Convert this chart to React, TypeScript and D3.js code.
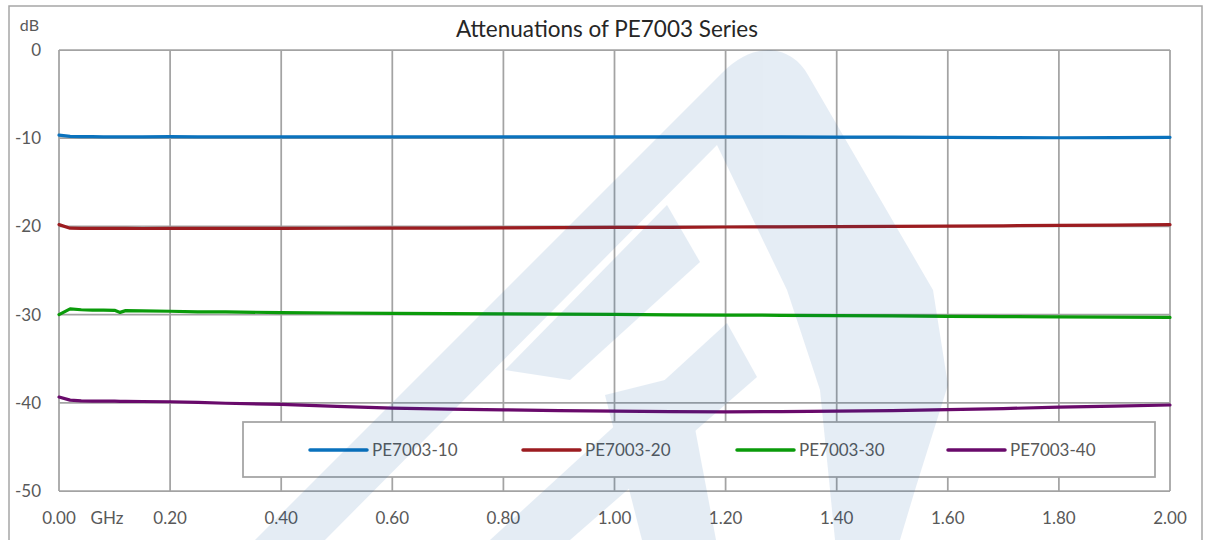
import React from 'react';
import * as d3 from 'd3';

// frequency points, GHz
const freqs = [0, 0.02, 0.04, 0.06, 0.08, 0.10, 0.11, 0.12, 0.15, 0.2, 0.25, 0.3, 0.4, 0.5, 0.6, 0.7, 0.8, 0.9, 1.0, 1.1, 1.2, 1.3, 1.4, 1.5, 1.6, 1.7, 1.8, 1.9, 2.0];

// attenuation readings, dB
const pe10 = [-9.65, -9.8, -9.82, -9.83, -9.84, -9.85, -9.85, -9.84, -9.84, -9.83, -9.84, -9.84, -9.85, -9.84, -9.85, -9.85, -9.85, -9.86, -9.86, -9.85, -9.85, -9.86, -9.87, -9.88, -9.9, -9.93, -9.95, -9.93, -9.9];
const pe20 = [-19.8, -20.2, -20.22, -20.22, -20.22, -20.22, -20.23, -20.23, -20.24, -20.22, -20.23, -20.22, -20.22, -20.21, -20.2, -20.2, -20.17, -20.15, -20.12, -20.1, -20.07, -20.05, -20.02, -20.0, -19.97, -19.93, -19.88, -19.85, -19.8];
const pe30 = [-30.0, -29.35, -29.45, -29.5, -29.5, -29.52, -29.75, -29.55, -29.58, -29.62, -29.68, -29.7, -29.77, -29.82, -29.85, -29.88, -29.92, -29.95, -29.98, -30.02, -30.05, -30.08, -30.12, -30.15, -30.2, -30.23, -30.25, -30.28, -30.32];
const pe40 = [-39.35, -39.7, -39.78, -39.8, -39.8, -39.82, -39.83, -39.84, -39.85, -39.88, -39.95, -40.05, -40.17, -40.4, -40.6, -40.72, -40.8, -40.88, -40.95, -41.0, -41.02, -41.0, -40.95, -40.88, -40.77, -40.65, -40.5, -40.38, -40.25];

const seriesNames = ['PE7003-10', 'PE7003-20', 'PE7003-30', 'PE7003-40'];
const seriesValues = [pe10, pe20, pe30, pe40];
const seriesColors = ['#0a72bd', '#9c1c20', '#0a9b0a', '#690a6b'];

const xTicks = [0, 0.2, 0.4, 0.6, 0.8, 1.0, 1.2, 1.4, 1.6, 1.8, 2.0];
const yTicks = [0, -10, -20, -30, -40, -50];

// faint logo watermark laid over the whole chart
const watermark = [
  'M255,540 L722,73 Q745,50 770,50 Q795,52 808,75 L933,290 L948,385 L915,490 L900,540 L835,540 L820,390 L787,290 L717,145 L325,540 Z',
  'M667,205 L700,262 L570,380 L505,370 Z',
  'M727,323 L757,377 L570,540 L490,540 Z',
  'M605,395 L685,375 L716,540 L642,540 Z',
];

const W = 1205;
const H = 540;
const m = { left: 59, right: 1170, top: 50, bottom: 491 };
const font = 'Lato, "Open Sans", sans-serif';
const textGray = '#595959';
const gridGray = '#a3a3a3';

const App = () => {
  const x = d3.scaleLinear().domain([0, 2]).range([m.left, m.right]);
  const y = d3.scaleLinear().domain([-50, 0]).range([m.bottom, m.top]);

  const line = d3.line<number>()
    .x((d, i) => x(freqs[i]))
    .y(d => y(d));

  const fmt = d3.format('.2f');

  const legendX = [310, 523, 737, 948];

  return (
    <svg width={W} height={H} style={{ position: 'absolute', left: 0, top: 0, background: '#fff' }}>
      <rect x={9} y={6} width={1193} height={560} fill="#fff" stroke="#a6a6a6" strokeWidth={1.5} />

      <text x={607} y={37} textAnchor="middle" fontFamily={font} fontSize={22.5} fill="#262626">
        Attenuations of PE7003 Series
      </text>

      {xTicks.map(t => (
        <line key={'gx' + t} x1={x(t)} x2={x(t)} y1={m.top} y2={m.bottom} stroke={gridGray} strokeWidth={1.75} />
      ))}
      {yTicks.map(t => (
        <line key={'gy' + t} x1={m.left} x2={m.right} y1={y(t)} y2={y(t)} stroke={gridGray} strokeWidth={1.75} />
      ))}

      {yTicks.map(t => (
        <text key={'ly' + t} x={41} y={y(t)} dy="0.35em" textAnchor="end" fontFamily={font} fontSize={17} fill={textGray}>
          {t}
        </text>
      ))}
      <text x={39} y={25} dy="0.35em" textAnchor="end" fontFamily={font} fontSize={16} fill={textGray}>dB</text>

      {xTicks.map(t => (
        <text key={'lx' + t} x={x(t)} y={518} dy="0.35em" textAnchor="middle" fontFamily={font} fontSize={17} fill={textGray}>
          {fmt(t)}
        </text>
      ))}
      <text x={107} y={518} dy="0.35em" textAnchor="middle" fontFamily={font} fontSize={17} fill={textGray}>GHz</text>

      {seriesValues.map((vals, i) => (
        <path key={seriesNames[i]} d={line(vals) || ''} fill="none" stroke={seriesColors[i]}
          strokeWidth={3.2} strokeLinejoin="round" strokeLinecap="round" />
      ))}

      <rect x={243} y={422} width={912} height={55} fill="#fff" stroke={gridGray} strokeWidth={1.75} />
      {seriesNames.map((name, i) => (
        <g key={'lg' + name}>
          <line x1={legendX[i]} x2={legendX[i] + 57} y1={450} y2={450} stroke={seriesColors[i]} strokeWidth={3.5} strokeLinecap="round" />
          <text x={legendX[i] + 62} y={450} dy="0.35em" fontFamily={font} fontSize={17} fill={textGray}>{name}</text>
        </g>
      ))}

      <g fill="#0050a0" opacity={0.1}>
        {watermark.map((d, i) => <path key={'wm' + i} d={d} />)}
      </g>
    </svg>
  );
};

export default App;
